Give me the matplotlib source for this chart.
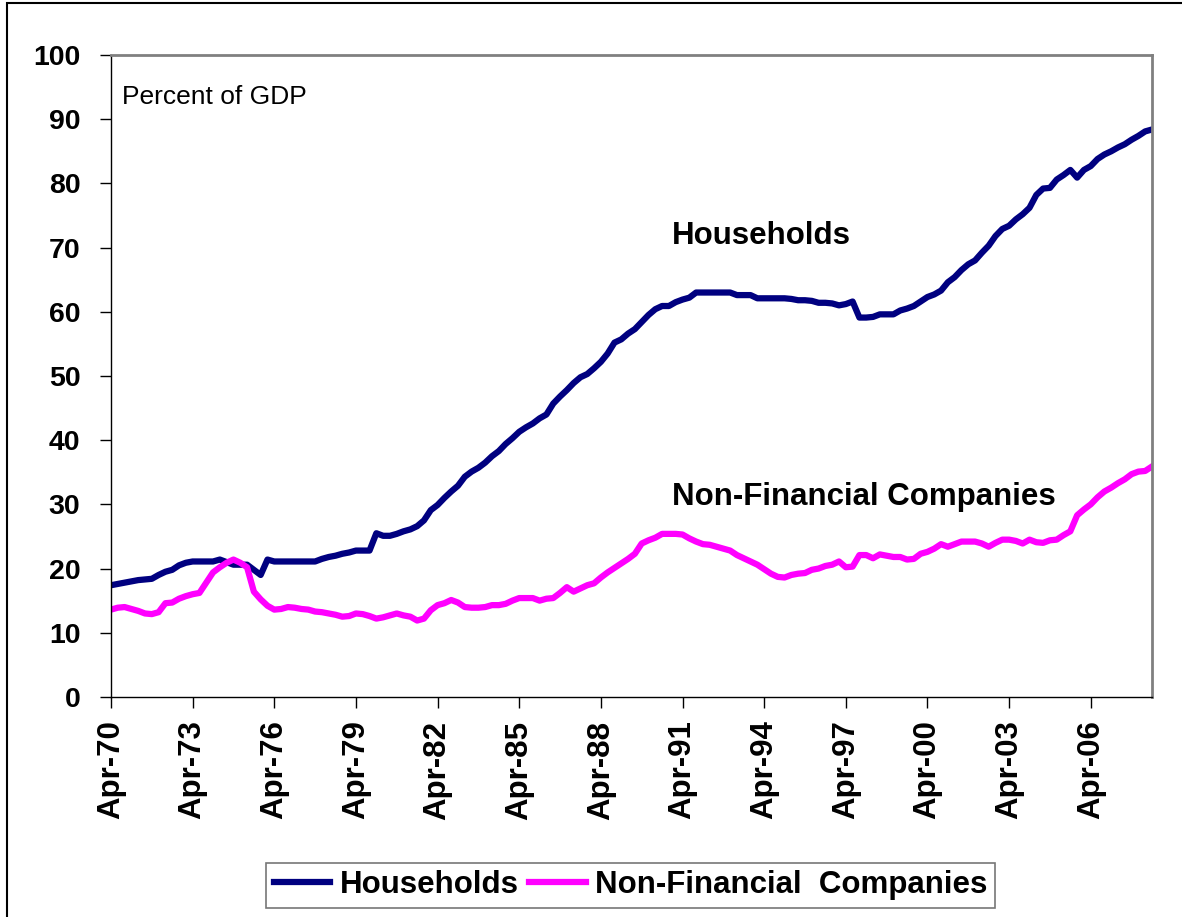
import numpy as np
import matplotlib
matplotlib.use("Agg")
import matplotlib.pyplot as plt
from matplotlib.patches import Rectangle

plt.rcParams["font.family"] = ["Liberation Sans", "DejaVu Sans"]

# Debt as percent of GDP, quarterly from Apr-70 to Jul-08
households = [
    17.4, 17.6, 17.8, 18.0, 18.2, 18.3, 18.4, 19.0, 19.5, 19.8, 20.5, 20.9,
    21.1, 21.1, 21.1, 21.1, 21.4, 21.0, 20.6, 20.6, 20.6, 19.8, 19.0, 21.4,
    21.1, 21.1, 21.1, 21.1, 21.1, 21.1, 21.1, 21.5, 21.8, 22.0, 22.3, 22.5,
    22.8, 22.8, 22.8, 25.5, 25.1, 25.1, 25.4, 25.8, 26.1, 26.6, 27.5, 29.1,
    29.9, 31.0, 32.0, 32.9, 34.3, 35.1, 35.7, 36.5, 37.5, 38.3, 39.4, 40.3,
    41.3, 42.0, 42.6, 43.4, 44.0, 45.7, 46.8, 47.8, 48.9, 49.8, 50.3, 51.2,
    52.2, 53.5, 55.2, 55.7, 56.6, 57.3, 58.4, 59.5, 60.4, 60.9, 60.9, 61.5,
    61.9, 62.2, 63.0, 63.0, 63.0, 63.0, 63.0, 63.0, 62.6, 62.6, 62.6, 62.1,
    62.1, 62.1, 62.1, 62.1, 62.0, 61.8, 61.8, 61.7, 61.4, 61.4, 61.3, 61.0,
    61.2, 61.6, 59.1, 59.1, 59.2, 59.6, 59.6, 59.6, 60.2, 60.5, 60.9, 61.6,
    62.3, 62.7, 63.3, 64.6, 65.4, 66.5, 67.4, 68.0, 69.2, 70.3, 71.8, 72.9,
    73.4, 74.4, 75.2, 76.2, 78.2, 79.2, 79.3, 80.6, 81.3, 82.1, 80.9, 82.1,
    82.7, 83.8, 84.5, 85.0, 85.6, 86.1, 86.8, 87.4, 88.1, 88.4,
]
non_financial = [
    13.6, 13.9, 14.0, 13.7, 13.4, 13.0, 12.9, 13.2, 14.6, 14.7, 15.3, 15.7,
    16.0, 16.2, 17.8, 19.4, 20.2, 20.9, 21.4, 20.9, 20.2, 16.4, 15.2, 14.2,
    13.6, 13.7, 14.0, 13.9, 13.7, 13.6, 13.3, 13.2, 13.0, 12.8, 12.5, 12.6,
    13.0, 12.9, 12.6, 12.2, 12.4, 12.7, 13.0, 12.7, 12.5, 11.9, 12.2, 13.5,
    14.3, 14.6, 15.1, 14.7, 14.0, 13.9, 13.9, 14.0, 14.3, 14.3, 14.5, 15.0,
    15.4, 15.4, 15.4, 15.0, 15.3, 15.4, 16.2, 17.1, 16.4, 16.9, 17.4, 17.7,
    18.6, 19.4, 20.1, 20.8, 21.5, 22.3, 23.9, 24.4, 24.8, 25.4, 25.4, 25.4,
    25.3, 24.7, 24.2, 23.8, 23.7, 23.4, 23.1, 22.8, 22.1, 21.6, 21.1, 20.6,
    19.9, 19.2, 18.7, 18.6, 19.0, 19.2, 19.3, 19.8, 20.0, 20.4, 20.6, 21.1,
    20.2, 20.3, 22.1, 22.1, 21.6, 22.2, 22.0, 21.8, 21.8, 21.4, 21.5, 22.3,
    22.6, 23.1, 23.8, 23.4, 23.8, 24.2, 24.2, 24.2, 23.9, 23.4, 24.0, 24.5,
    24.5, 24.3, 23.9, 24.5, 24.1, 24.0, 24.4, 24.5, 25.2, 25.8, 28.3, 29.2,
    30.0, 31.1, 32.0, 32.6, 33.3, 33.9, 34.7, 35.1, 35.2, 35.9,
]
tick_labels = ["Apr-70", "Apr-73", "Apr-76", "Apr-79", "Apr-82", "Apr-85",
               "Apr-88", "Apr-91", "Apr-94", "Apr-97", "Apr-00", "Apr-03",
               "Apr-06"]
y_ticks = [0, 10, 20, 30, 40, 50, 60, 70, 80, 90, 100]

start = 1970.25
x_hh = start + 0.25 * np.arange(len(households))
x_nf = start + 0.25 * np.arange(len(non_financial))
tick_pos = start + 3 * np.arange(len(tick_labels))

fig = plt.figure(figsize=(11.82, 9.17), dpi=100)
ax = fig.add_axes([0.0939, 0.240, 0.8807, 0.700])

ax.plot(x_hh, households, color="#000080", lw=4.5, label="Households",
        solid_joinstyle="round")
ax.plot(x_nf, non_financial, color="#FF00FF", lw=4.5,
        label="Non-Financial  Companies", solid_joinstyle="round")

ax.set_xlim(start, x_hh[-1])
ax.set_ylim(0, 100)
ax.set_yticks(y_ticks)
ax.set_yticklabels([str(v) for v in y_ticks], fontsize=20.5, fontweight="bold")
ax.set_xticks(tick_pos)
ax.set_xticklabels(tick_labels, rotation=90, fontsize=22.5, fontweight="bold")
ax.tick_params(axis="y", direction="out", length=8, width=1, pad=14)
ax.tick_params(axis="x", direction="out", length=8, width=1, pad=9)

for side in ("left", "bottom"):
    ax.spines[side].set_color("black")
    ax.spines[side].set_linewidth(1.0)
for side in ("top", "right"):
    ax.spines[side].set_color("#808080")
    ax.spines[side].set_linewidth(2.0)

ax.text(0.0106, 0.9346, "Percent of GDP", transform=ax.transAxes,
        fontsize=19, va="center", ha="left")
ax.text(0.539, 0.718, "Households", transform=ax.transAxes,
        fontsize=22.5, fontweight="bold", va="center", ha="left")
ax.text(0.539, 0.3115, "Non-Financial Companies", transform=ax.transAxes,
        fontsize=22.5, fontweight="bold", va="center", ha="left")

leg = fig.legend(loc="center", bbox_to_anchor=(0.5335, 0.0345), ncol=2,
                 frameon=True, fancybox=False, edgecolor="#555555",
                 prop={"size": 22.5, "weight": "bold"}, handlelength=1.8,
                 handletextpad=0.3, columnspacing=0.35, borderpad=0.25,
                 borderaxespad=0)
leg.get_frame().set_linewidth(1.2)

# outer chart border
fig.patches.append(Rectangle((7 / 1182, -0.02), 1.0, 1 - 3 / 917 + 0.02,
                             transform=fig.transFigure, fill=False,
                             edgecolor="black", lw=1.5))

fig.savefig("out.png", dpi=100)
